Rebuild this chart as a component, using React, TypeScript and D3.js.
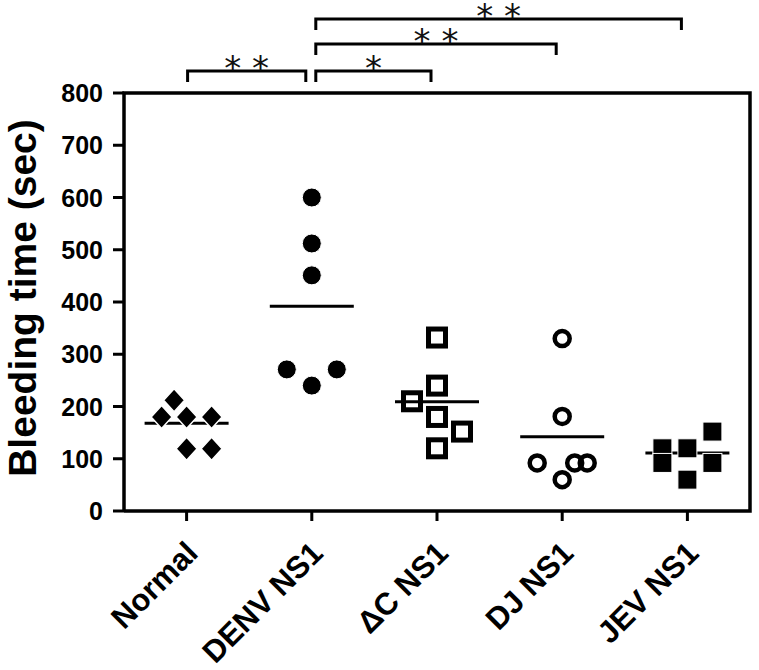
import React from "react";
import * as d3 from "d3";

const categories = ["Normal", "DENV NS1", "\u0394C NS1", "DJ NS1", "JEV NS1"];
const normalValues = [212, 180, 180, 180, 119, 119];
const normalSlots = [-0.5, -1, 0, 1, 0, 1];
const denvValues = [600, 512, 451, 271, 271, 240];
const denvSlots = [0, 0, 0, -1, 1, 0];
const dcValues = [332, 240, 210, 180, 152, 120];
const dcSlots = [0, 0, -1, 0, 1, 0];
const djValues = [330, 181, 92, 92, 92, 60];
const djSlots = [0, 0, -1, 0.5, 1, 0];
const jevValues = [120, 92, 120, 60, 152, 92];
const jevSlots = [-1, -1, 0, 0, 1, 1];
const meanValues = [168, 392, 209, 142, 111];
const yTicks = [0, 100, 200, 300, 400, 500, 600, 700, 800];
const bracketFrom = [0, 1, 1, 1];
const bracketTo = [1, 2, 3, 4];
const bracketLevel = [0, 0, 1, 2];
const bracketLabels = ["* *", "*", "* *", "* *"];
const yTitle = "Bleeding time (sec)";

const groups = [
  { values: normalValues, slots: normalSlots, marker: "diamond" },
  { values: denvValues, slots: denvSlots, marker: "circle" },
  { values: dcValues, slots: dcSlots, marker: "openSquare" },
  { values: djValues, slots: djSlots, marker: "openCircle" },
  { values: jevValues, slots: jevSlots, marker: "square" },
];

const W = 759;
const H = 670;
const left = 124;
const right = 750;
const top = 93;
const bottom = 511;

export default function App() {
  const x = d3.scalePoint<string>().domain(categories).range([left, right]).padding(0.5);
  const y = d3.scaleLinear().domain([0, 800]).range([bottom, top]);
  const slotStep = 25;
  const font = "'Liberation Sans', Arial, Helvetica, sans-serif";

  const marker = (kind: string, cx: number, cy: number, key: string) => {
    if (kind === "diamond")
      return (
        <path key={key} d={`M${cx},${cy - 11.5}L${cx + 10.5},${cy}L${cx},${cy + 11.5}L${cx - 10.5},${cy}Z`} fill="#000" stroke="#fff" strokeWidth={1.5} />
      );
    if (kind === "circle") return <circle key={key} cx={cx} cy={cy} r={9.5} fill="#000" stroke="#fff" strokeWidth={1} />;
    if (kind === "openSquare")
      return <rect key={key} x={cx - 8.5} y={cy - 8.5} width={17} height={17} fill="none" stroke="#000" strokeWidth={5} />;
    if (kind === "openCircle") return <circle key={key} cx={cx} cy={cy} r={7.5} fill="none" stroke="#000" strokeWidth={4.5} />;
    return <rect key={key} x={cx - 9.5} y={cy - 9.5} width={19} height={19} fill="#000" stroke="#fff" strokeWidth={1} />;
  };

  const levelY = [71, 44, 19];

  return (
    <svg width={W} height={H} style={{ position: "absolute", left: 0, top: 0, background: "#fff" }} fontFamily={font}>
      <rect x={0} y={0} width={W} height={H} fill="#fff" />
      {/* frame */}
      <path d={`M${left},${bottom}V${top}H${right}V${bottom}H${left}`} fill="none" stroke="#000" strokeWidth={3.5} />
      {/* y ticks */}
      {yTicks.map((t) => (
        <g key={t}>
          <line x1={left - 11} x2={left} y1={y(t)} y2={y(t)} stroke="#000" strokeWidth={3} />
          <text x={103} y={y(t)} dy="0.36em" textAnchor="end" fontSize={25} fontWeight="bold">
            {t}
          </text>
        </g>
      ))}
      <text transform={`translate(36,298) rotate(-90)`} textAnchor="middle" fontSize={39} fontWeight="bold">
        {yTitle}
      </text>
      {/* x ticks */}
      {categories.map((c) => (
        <g key={c}>
          <line x1={x(c)!} x2={x(c)!} y1={bottom} y2={bottom + 10} stroke="#000" strokeWidth={3} />
          <text transform={`translate(${x(c)! + 13},${bottom + 44}) rotate(-45)`} textAnchor="end" fontSize={31} fontWeight="bold">
            {c}
          </text>
        </g>
      ))}
      {/* mean lines */}
      {meanValues.map((m, i) => (
        <line key={i} x1={x(categories[i])! - 42} x2={x(categories[i])! + 42} y1={y(m)} y2={y(m)} stroke="#000" strokeWidth={3} />
      ))}
      {/* points */}
      {groups.map((g, gi) =>
        g.values.map((v, i) => marker(g.marker, x(categories[gi])! + g.slots[i] * slotStep, y(v), `${gi}-${i}`))
      )}
      {/* brackets */}
      {bracketFrom.map((f, i) => {
        const x1 = x(categories[f])! + (f === 0 ? 1 : 4);
        const x2 = x(categories[bracketTo[i]])! - 6;
        const ly = levelY[bracketLevel[i]];
        return (
          <g key={i}>
            <path d={`M${x1},${ly + 11}V${ly}H${x2}V${ly + 11}`} fill="none" stroke="#000" strokeWidth={3} />
            <text x={(x1 + x2) / 2} y={ly + 9} textAnchor="middle" fontSize={34} fontFamily="'DejaVu Sans', sans-serif" fill="#111">
              {bracketLabels[i]}
            </text>
          </g>
        );
      })}
    </svg>
  );
}
